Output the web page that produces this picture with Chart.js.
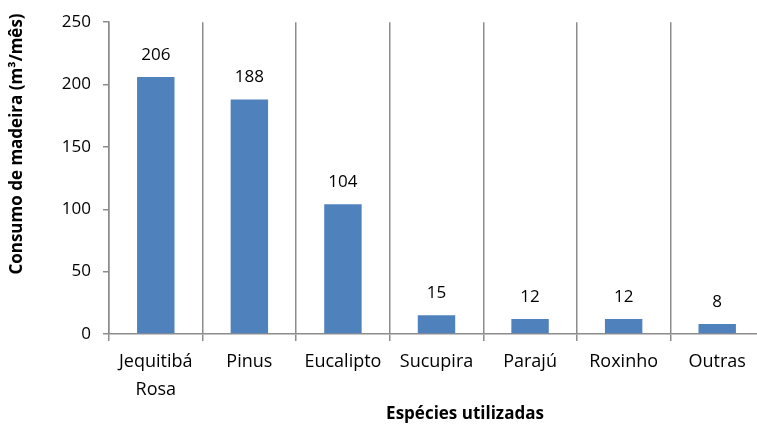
<!DOCTYPE html>
<html>
<head>
<meta charset="utf-8">
<script src="https://cdn.jsdelivr.net/npm/chart.js@4.4.1/dist/chart.umd.min.js"></script>
<style>
  html, body { margin: 0; padding: 0; background: #fff; overflow: hidden; }
  #wrap { position: relative; width: 770px; height: 426px; }
</style>
</head>
<body>
<div id="wrap"><canvas id="barChart"></canvas></div>
<script>
// dados do grafico
var especies = [["Jequitibá", "Rosa"], "Pinus", "Eucalipto", "Sucupira", "Parajú", "Roxinho", "Outras"];
var consumo = [206, 188, 104, 15, 12, 12, 8];
var ticksY = [0, 50, 100, 150, 200, 250];

var tituloX = "Espécies utilizadas";
var tituloY = "Consumo de madeira (m³/mês)";

var corBarra = "#4f81bd";
var corLinha = "#8c8c8c";
var fonte = "'Open Sans', sans-serif";

// valores em cima das barras
var rotulosBarras = {
  id: "rotulosBarras",
  afterDatasetsDraw: function(chart){
    var ctx = chart.ctx;
    var meta = chart.getDatasetMeta(0);
    ctx.save();
    ctx.font = "17px " + fonte;
    ctx.fillStyle = "#000";
    ctx.textAlign = "center";
    ctx.textBaseline = "middle";
    meta.data.forEach(function(bar, i){
      ctx.fillText(consumo[i], bar.x, bar.y - 22);
    });
    ctx.restore();
  }
};

// titulos dos eixos
var titulosEixos = {
  id: "titulosEixos",
  afterDraw: function(chart){
    var ctx = chart.ctx;
    ctx.save();
    ctx.font = "bold 17px " + fonte;
    ctx.fillStyle = "#000";
    ctx.textAlign = "center";
    ctx.textBaseline = "middle";
    ctx.fillText(tituloX, 465, 414);
    ctx.translate(17, 144);
    ctx.rotate(-Math.PI / 2);
    ctx.fillText(tituloY, 0, 0);
    ctx.restore();
  }
};

var barChartCanvas = document.getElementById("barChart").getContext("2d");
var barChart = new Chart(barChartCanvas, {
  type: "bar",
  data: {
    labels: especies,
    datasets: [{
      data: consumo,
      backgroundColor: corBarra,
      borderWidth: 0,
      barPercentage: 0.4,
      categoryPercentage: 1
    }]
  },
  options: {
    responsive: true,
    maintainAspectRatio: false,
    animation: false,
    layout: { padding: { top: 16, right: 6, left: 0, bottom: 0 } },
    plugins: {
      legend: { display: false },
      tooltip: { enabled: false }
    },
    scales: {
      x: {
        afterFit: function(scale){ scale.height = 92; },
        grid: {
          color: corLinha,
          lineWidth: 1.5,
          tickLength: 7,
          offset: true
        },
        border: { color: corLinha, width: 1.5 },
        ticks: {
          color: "#000",
          padding: 7,
          maxRotation: 0,
          autoSkip: false,
          font: { family: fonte, size: 18, lineHeight: 1.55 }
        }
      },
      y: {
        min: 0,
        max: 250,
        afterBuildTicks: function(scale){
          scale.ticks = ticksY.map(function(v){ return { value: v }; });
        },
        afterFit: function(scale){ scale.width = 109; },
        grid: {
          drawOnChartArea: false,
          color: corLinha,
          lineWidth: 1.5,
          tickLength: 6
        },
        border: { color: corLinha, width: 1.5 },
        ticks: {
          color: "#000",
          padding: 12,
          font: { family: fonte, size: 17 }
        }
      }
    }
  },
  plugins: [rotulosBarras, titulosEixos]
});
</script>
</body>
</html>
